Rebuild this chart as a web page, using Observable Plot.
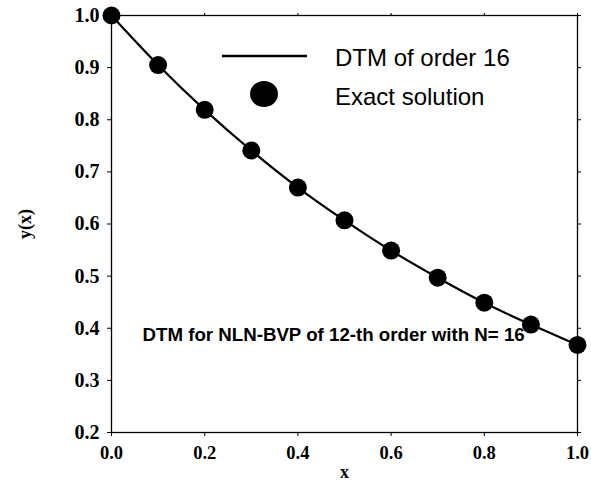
<!DOCTYPE html>
<html>
<head>
<meta charset="utf-8">
<script src="https://cdn.jsdelivr.net/npm/d3@7"></script>
<script src="https://cdn.jsdelivr.net/npm/@observablehq/plot@0.6"></script>
<style>
  body { margin: 0; background: #fff; }
  #chart svg { background: #fff; overflow: visible; }
  g[aria-label="x-axis tick label"] text {
    font-family: "Liberation Serif", serif; font-weight: bold; font-size: 18.5px; fill: #000;
  }
  g[aria-label="y-axis tick label"] text {
    font-family: "Liberation Serif", serif; font-weight: bold; font-size: 20px; fill: #000;
  }
  g[aria-label="x-axis label"] text, g[aria-label="y-axis label"] text {
    font-family: "Liberation Serif", serif; font-weight: bold; font-size: 18px; fill: #000;
  }
</style>
</head>
<body>
<div id="chart"></div>
<script>
// Data
const xValues      = [0.0, 0.1, 0.2, 0.3, 0.4, 0.5, 0.6, 0.7, 0.8, 0.9, 1.0];
const exactValues  = [1.000, 0.905, 0.819, 0.741, 0.670, 0.607, 0.549, 0.497, 0.449, 0.407, 0.368];
const dtmValues    = [1.000, 0.905, 0.819, 0.741, 0.670, 0.607, 0.549, 0.497, 0.449, 0.407, 0.368];
const xTicks = [0.0, 0.2, 0.4, 0.6, 0.8, 1.0];
const yTicks = [0.2, 0.3, 0.4, 0.5, 0.6, 0.7, 0.8, 0.9, 1.0];
const seriesNames = ["DTM of order 16", "Exact solution"];
const annotation = "DTM for NLN-BVP of 12-th order with N= 16";
const xLabel = "x";
const yLabel = "y(x)";

const exact = xValues.map((x, i) => ({x, y: exactValues[i]}));
const dtm = xValues.map((x, i) => ({x, y: dtmValues[i]}));
const fmt = d => d.toFixed(1);

const chart = Plot.plot({
  width: 591,
  height: 482,
  marginLeft: 111,
  marginRight: 14,
  marginTop: 15,
  marginBottom: 50,
  x: {domain: [0, 1]},
  y: {domain: [0.2, 1.0]},
  marks: [
    Plot.axisX({anchor: "bottom", ticks: xTicks, tickFormat: fmt, tickSize: 4, tickPadding: 9,
      label: xLabel, labelAnchor: "center", labelArrow: "none", labelOffset: 45}),
    Plot.axisY({anchor: "left", ticks: yTicks, tickFormat: fmt, tickSize: 4, tickPadding: 8,
      label: yLabel, labelAnchor: "center", labelArrow: "none", labelOffset: 93}),
    Plot.axisX({anchor: "top", ticks: xTicks, tickFormat: () => "", tickSize: 3, label: null}),
    Plot.axisY({anchor: "right", ticks: yTicks, tickFormat: () => "", tickSize: 3, label: null}),
    Plot.frame({stroke: "#000", strokeWidth: 1.3}),
    Plot.line(dtm, {x: "x", y: "y", curve: "natural", stroke: "#000", strokeWidth: 2.2}),
    Plot.dot(exact, {x: "x", y: "y", r: 9, fill: "#000", stroke: "none"}),
    Plot.text([annotation], {frameAnchor: "bottom-left", dx: 31, dy: -92, text: d => d,
      textAnchor: "start", fontFamily: "Liberation Sans, Arial, sans-serif", fontWeight: "bold",
      fontSize: 18.7, fill: "#000"})
  ]
});

document.getElementById("chart").appendChild(chart);

// Legend drawn inside the plot area
const svg = d3.select(chart);
const lg = svg.append("g").attr("aria-label", "legend")
  .attr("font-family", "Liberation Sans, Arial, sans-serif").attr("font-size", 24)
  .attr("text-anchor", "start");
lg.append("line").attr("x1", 222).attr("x2", 307).attr("y1", 56).attr("y2", 56)
  .attr("stroke", "#000").attr("stroke-width", 2.5);
lg.append("ellipse").attr("cx", 264).attr("cy", 94).attr("rx", 14).attr("ry", 13).attr("fill", "#000");
lg.append("text").attr("x", 335).attr("y", 57).attr("dominant-baseline", "central").attr("fill", "#000").text(seriesNames[0]);
lg.append("text").attr("x", 335).attr("y", 96).attr("dominant-baseline", "central").attr("fill", "#000").text(seriesNames[1]);
</script>
</body>
</html>
